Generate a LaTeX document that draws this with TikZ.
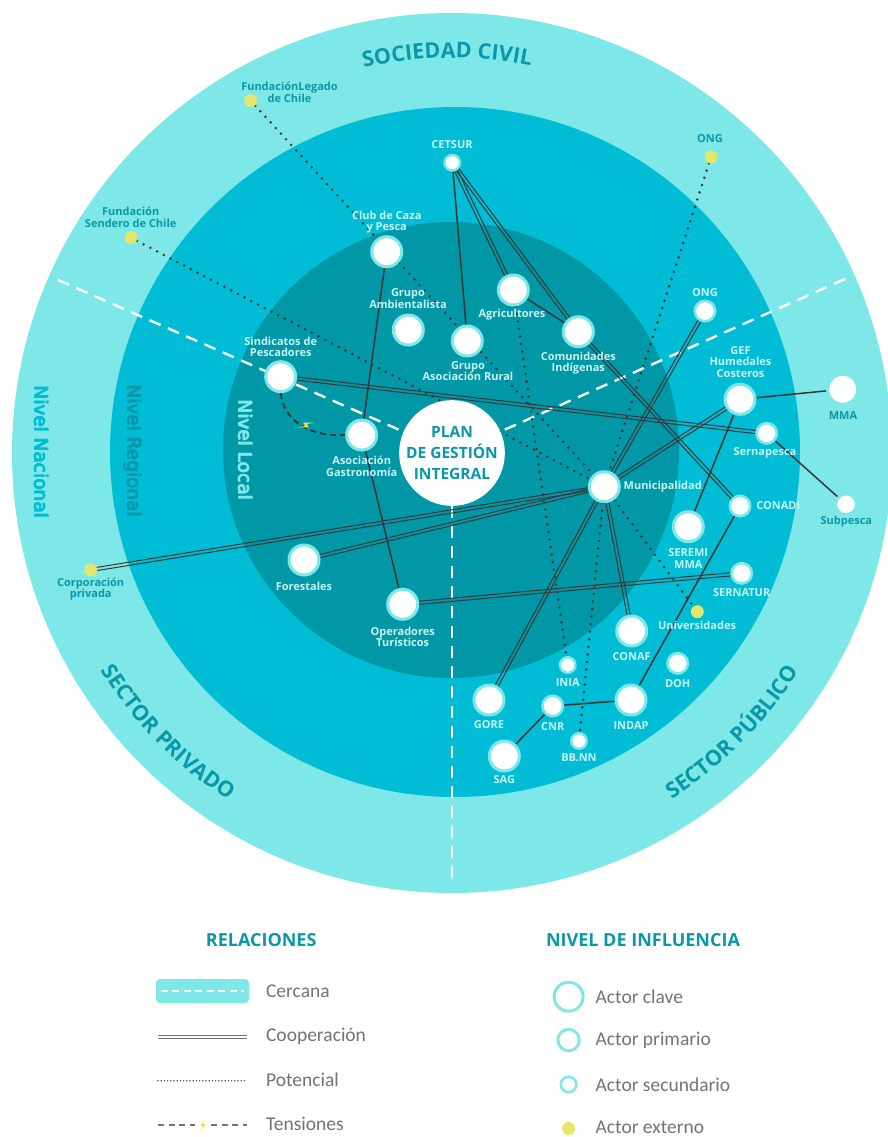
\documentclass[tikz,border=0pt]{standalone}
\usepackage{fontspec}
\setmainfont{Open Sans}
\newfontfamily\legfont{Carlito}
\newfontfamily\nivfont{DejaVu Sans}
\usetikzlibrary{calc,decorations.text}
\pgfdeclarelayer{rings}
\pgfdeclarelayer{edges}
\pgfsetlayers{rings,edges,main}
\definecolor{ringA}{HTML}{7EE8E8}
\definecolor{ringB}{HTML}{00BCD4}
\definecolor{ringC}{HTML}{0097A7}
\definecolor{tealT}{HTML}{0A97A8}
\definecolor{labL}{HTML}{C8F4F4}
\definecolor{edgeC}{HTML}{3B3636}
\definecolor{yel}{HTML}{E3E86C}
\definecolor{boltY}{HTML}{EEE24A}
\definecolor{legG}{HTML}{737373}
\newcommand{\titfont}{\color{tealT}\bfseries\fontsize{21.5}{24}\selectfont}
\newcommand{\thick}[1]{\rlap{#1}\rlap{\kern0.35pt\raisebox{0.35pt}{#1}}\kern0.7pt#1}
\newcommand{\coop}[2]{%
  \draw[coopst] ($(#1)!1.6pt!90:(#2)$) -- ($(#2)!1.6pt!-90:(#1)$);
  \draw[coopst] ($(#1)!1.6pt!-90:(#2)$) -- ($(#2)!1.6pt!90:(#1)$);}
\newcommand{\bolt}[4]{\fill[boltY,shift={(#1,#2)},rotate=#3,scale=#4] (1.6,-6) -- (-2.4,0.9) -- (0.3,0.9) -- (-1.6,6) -- (2.4,-0.9) -- (-0.3,-0.9) -- cycle;}
\begin{document}
\begin{tikzpicture}[x=1pt,y=-1pt,
  clave/.style={circle,fill=white,draw=ringA,line width=3pt,minimum size=30pt,inner sep=0pt},
  prim/.style={circle,fill=white,draw=ringA,line width=2.6pt,minimum size=20.4pt,inner sep=0pt},
  seco/.style={circle,fill=white,draw=ringA,line width=2.4pt,minimum size=15.6pt,inner sep=0pt},
  ext/.style={circle,fill=yel,minimum size=13pt,inner sep=0pt},
  lab/.style={font=\fontsize{11}{11.7}\selectfont\bfseries,text=labL,align=center,inner sep=0pt},
  labo/.style={lab,text=tealT},
  coopst/.style={draw=edgeC,line width=1pt},
  solo/.style={draw=edgeC,line width=1.5pt},
  pot/.style={draw=edgeC,line width=2.8pt,line cap=round,dash pattern=on 0pt off 7.6pt},
  tens/.style={draw=edgeC,line width=1.8pt,dash pattern=on 6pt off 4pt},
  sectorline/.style={draw=white,line width=2.4pt,dash pattern=on 12pt off 8pt},
  nivel/.style={rotate=-90,font=\nivfont\fontsize{18.5}{19}\selectfont,inner sep=0pt},
  legtxt/.style={font=\legfont\fontsize{19.5}{20}\selectfont,text=legG,anchor=west,inner sep=0pt},
  legtit/.style={font=\bfseries\fontsize{18}{20}\selectfont,text=tealT,inner sep=0pt}
]
\useasboundingbox (0,0) rectangle (888,1137);

% ---------- central node
\node[circle,fill=white,minimum size=102pt,inner sep=0pt,align=center,text=tealT,
      font=\bfseries\fontsize{15.5}{21}\selectfont] (plan) at (452,453) {PLAN\\DE GESTIÓN\\INTEGRAL};

% ---------- actors
\node[ext] (legado) at (250.7,100.7) {};
\node[labo] (t-legado) at (289.5,92) {FundaciónLegado\\de Chile};
\node[ext] (sendero) at (131,237.7) {};
\node[labo] (t-sendero) at (130.7,217) {Fundación\\Sendero de Chile};
\node[ext] (ongo) at (711,157) {};
\node[labo] (t-ongo) at (710,139) {ONG};
\node[ext] (corp) at (90.7,570) {};
\node[labo] (t-corp) at (90.7,589) {Corporación\\privada};
\node[ext] (univ) at (697.3,611.7) {};
\node[lab] (t-univ) at (697,625.7) {Universidades};

\node[seco] (cetsur) at (452.3,162.7) {};
\node[lab] (t-cetsur) at (452,145) {CETSUR};
\node[clave] (club) at (386.7,251.7) {};
\node[lab] (t-club) at (386.7,222) {Club de Caza\\y Pesca};
\node[clave] (gamb) at (408.3,330) {};
\node[lab] (t-gamb) at (408,298.5) {Grupo\\Ambientalista};
\node[clave] (agri) at (513.3,290) {};
\node[lab] (t-agri) at (512,315) {Agricultores};
\node[clave] (gar) at (467.3,341) {};
\node[lab] (t-gar) at (468,371) {Grupo\\Asociación Rural};
\node[clave] (com) at (578.3,331.7) {};
\node[lab] (t-com) at (578.3,363) {Comunidades\\Indígenas};
\node[clave] (sind) at (280.7,376.7) {};
\node[lab] (t-sind) at (280.7,347) {Sindicatos de\\Pescadores};
\node[clave] (gastro) at (361.7,435) {};
\node[lab] (t-gastro) at (361.7,466) {Asociación\\Gastronomía};
\node[clave] (fore) at (304,560) {};
\node[lab] (t-fore) at (304,586.7) {Forestales};
\node[clave] (oper) at (402.7,604.3) {};
\node[lab] (t-oper) at (402.7,637) {Operadores\\Turísticos};
\node[clave] (muni) at (604.3,486.7) {};
\node[lab] (t-muni) at (662.7,486.7) {Municipalidad};
\node[prim] (ongi) at (705,311) {};
\node[lab] (t-ongi) at (705,292.7) {ONG};
\node[clave] (gef) at (740,399.3) {};
\node[lab] (t-gef) at (740.5,362) {GEF\\Humedales\\Costeros};
\node[clave] (mma) at (842.7,389.3) {};
\node[labo] (t-mma) at (843,416) {MMA};
\node[prim] (sernap) at (766.7,433.3) {};
\node[lab] (t-sernap) at (765,452.7) {Sernapesca};
\node[prim] (subp) at (846,504.3) {};
\node[labo] (t-subp) at (846.3,521.7) {Subpesca};
\node[prim] (conadi) at (740,506) {};
\node[lab] (t-conadi) at (778.3,506) {CONADI};
\node[clave] (seremi) at (688.3,526.7) {};
\node[lab] (t-seremi) at (688.3,558.3) {SEREMI\\MMA};
\node[prim] (sernat) at (741.7,573.3) {};
\node[lab] (t-sernat) at (741.7,592.7) {SERNATUR};
\node[clave] (conaf) at (631.7,631) {};
\node[lab] (t-conaf) at (631.7,656.7) {CONAF};
\node[prim] (doh) at (677.7,663.3) {};
\node[lab] (t-doh) at (677.7,683.3) {DOH};
\node[seco] (inia) at (567.7,665) {};
\node[lab] (t-inia) at (567.7,682.3) {INIA};
\node[clave] (gore) at (489,700) {};
\node[lab] (t-gore) at (489,725) {GORE};
\node[prim] (cnr) at (552.7,706) {};
\node[lab] (t-cnr) at (552.7,726.7) {CNR};
\node[clave] (indap) at (631,700) {};
\node[lab] (t-indap) at (631,725.7) {INDAP};
\node[clave] (sag) at (504.3,756) {};
\node[lab] (t-sag) at (504.3,780) {SAG};
\node[seco] (bbnn) at (579,741) {};
\node[lab] (t-bbnn) at (579,757.7) {BB.NN};

% ---------- ring labels
\node[nivel,text=ringB] (nnac) at (42,452) {\thick{Nivel Nacional}};
\node[nivel,text=tealT] (nreg) at (133,451) {\thick{Nivel Regional}};
\node[nivel,text=ringA] (nloc) at (246,450) {\thick{Nivel Local}};

\path[decorate,decoration={text along path,text align=center,text={|\titfont|SOCIEDAD CIVIL}}]
  ([shift={(-110.7:395)}]452,453) arc[start angle=-110.7,end angle=-70.7,radius=395];
\path[decorate,decoration={text along path,text align=center,text={|\titfont|SECTOR PRIVADO}}]
  ([shift={(-194.5:413)}]452,453) arc[start angle=-194.5,end angle=-254.5,radius=413];
\path[decorate,decoration={text along path,text align=center,text={|\titfont|SECTOR PÚBLICO}}]
  ([shift={(-285.1:410)}]452,453) arc[start angle=-285.1,end angle=-345.1,radius=410];

% ---------- rings and sector lines
\coordinate (secL) at (58,280);
\coordinate (secR) at (845,279);
\coordinate (secB) at (452,878);
\begin{pgfonlayer}{rings}
  \fill[ringA] (452,453) circle[radius=440];
  \fill[ringB] (455,452) circle[radius=345];
  \fill[ringC] (451,450) circle[radius=228];
  \draw[sectorline] (secL) -- (plan);
  \draw[sectorline] (secR) -- (plan);
  \draw[sectorline] (plan) -- (secB);
\end{pgfonlayer}

% ---------- relations
\begin{pgfonlayer}{edges}
  \coop{cetsur}{agri}
  \coop{cetsur}{com}
  \coop{com}{conadi}
  \coop{sind}{sernap}
  \coop{muni}{ongi}
  \coop{muni}{gef}
  \coop{muni}{gore}
  \coop{muni}{conaf}
  \coop{muni}{corp}
  \coop{muni}{fore}
  \coop{oper}{sernat}
  \draw[solo] (cetsur) -- (gar);
  \draw[solo] (agri) -- (com);
  \draw[solo] (club) -- (gastro);
  \draw[solo] (gastro) -- (oper);
  \draw[solo] (gef) -- (mma);
  \draw[solo] (gef) -- (seremi);
  \draw[solo] (sernap) -- (subp);
  \draw[solo] (conadi) -- (indap);
  \draw[solo] (cnr) -- (indap);
  \draw[solo] (cnr) -- (sag);
  \draw[pot] (legado) -- (muni);
  \draw[pot] (sendero) -- (muni);
  \draw[pot] (ongo) -- (muni);
  \draw[pot] (muni) -- (univ);
  \draw[pot] (muni) -- (bbnn);
  \draw[pot] (agri) -- (inia);
  \draw[tens] (sind.south) .. controls (284,420) and (308,437) .. (gastro.west);
\end{pgfonlayer}
\bolt{306}{425}{-60}{1.4}

% ---------- legend
\node[legtit] (relt) at (261.2,940) {RELACIONES};
\node[legtit] (nivt) at (643,940) {NIVEL DE INFLUENCIA};

\node[fill=ringA,rounded corners=4pt,minimum width=93pt,minimum height=24pt,inner sep=0pt] (kcer) at (202.5,991) {};
\draw[white,line width=1.6pt,dash pattern=on 7pt off 4.5pt] ([xshift=5pt]kcer.west) -- ([xshift=-5pt]kcer.east);
\coordinate (kc1) at (158,1037);
\coordinate (kc2) at (247,1037);
\draw[legG,line width=0.9pt] ([yshift=1.4pt]kc1) -- ([yshift=1.4pt]kc2);
\draw[legG,line width=0.9pt] ([yshift=-1.4pt]kc1) -- ([yshift=-1.4pt]kc2);
\coordinate (kp1) at (158,1080.7);
\coordinate (kp2) at (247,1080.7);
\draw[black!65,line width=1.7pt,line cap=round,dash pattern=on 0pt off 3.2pt] (kp1) -- (kp2);
\coordinate (kt1) at (158,1125);
\coordinate (kt2) at (195,1125);
\coordinate (kt3) at (211,1125);
\coordinate (kt4) at (247,1125);
\draw[legG,line width=1.5pt,dash pattern=on 6pt off 4.5pt] (kt1) -- (kt2);
\draw[legG,line width=1.5pt,dash pattern=on 6pt off 4.5pt] (kt3) -- (kt4);
\bolt{203}{1125}{-10}{1.1}

\node[legtxt] (lcer) at (265.9,991.7) {Cercana};
\node[legtxt] (lcoo) at (265.9,1036) {Cooperación};
\node[legtxt] (lpot) at (265.9,1080) {Potencial};
\node[legtxt] (lten) at (265.9,1124) {Tensiones};

\node[circle,fill=white,draw=ringA,line width=3pt,minimum size=29pt,inner sep=0pt] (kclave) at (568.6,996.7) {};
\node[circle,fill=white,draw=ringA,line width=2.8pt,minimum size=21.5pt,inner sep=0pt] (kprim) at (568.6,1040) {};
\node[circle,fill=white,draw=ringA,line width=2.6pt,minimum size=15.5pt,inner sep=0pt] (ksec) at (568.6,1084.5) {};
\node[ext] (kext) at (568.6,1128.5) {};
\node[legtxt] (lclave) at (595.4,996.7) {Actor clave};
\node[legtxt] (lprim) at (595.4,1040) {Actor primario};
\node[legtxt] (lsec) at (595.4,1084.5) {Actor secundario};
\node[legtxt] (lext) at (595.4,1127.5) {Actor externo};
\end{tikzpicture}
\end{document}
